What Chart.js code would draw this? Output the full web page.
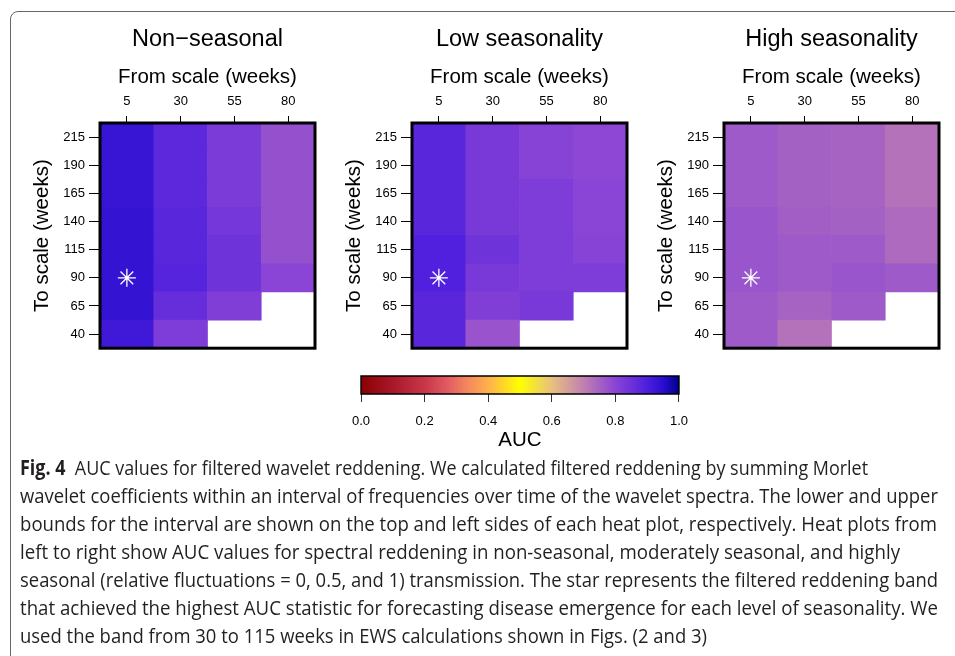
<!DOCTYPE html>
<html>
<head>
<meta charset="utf-8">
<script src="https://cdn.jsdelivr.net/npm/chart.js@4.4.1/dist/chart.umd.min.js"></script>
<style>
  html, body { margin: 0; padding: 0; background: #fff; width: 955px; height: 656px; overflow: hidden; }
  .frame { position: absolute; left: 10px; top: 11px; width: 1000px; height: 700px;
           border: 1.5px solid #666; border-radius: 8px; box-sizing: border-box; }
  canvas { position: absolute; }
  .cap { position: absolute; left: 20px; white-space: nowrap; font-family: 'Open Sans', sans-serif;
         font-size: 20.5px; line-height: 28px; color: #231f20; transform-origin: 0 50%; }
  .cap b { font-weight: 700; }
</style>
</head>
<body>
<div class="frame"></div>
<canvas id="heat1" width="310" height="360" style="left:20px;top:0px"></canvas>
<canvas id="heat2" width="310" height="360" style="left:332px;top:0px"></canvas>
<canvas id="heat3" width="310" height="360" style="left:644px;top:0px"></canvas>
<canvas id="colorbar" width="360" height="100" style="left:340px;top:362px"></canvas>
<div id="caption"></div>
<script>
// data
const fromScale = [5, 30, 55, 80];
const toScale = [40, 65, 90, 115, 140, 165, 190, 215];
// AUC, one array per "from" column, values listed for toScale 40 -> 215 (null = no band)
const aucNonSeasonal = [
    [0.92, 0.935, 0.935, 0.935, 0.935, 0.93, 0.93, 0.93],
    [0.82, 0.86, 0.885, 0.88, 0.88, 0.875, 0.875, 0.875],
    [null, 0.815, 0.845, 0.845, 0.835, 0.825, 0.825, 0.825],
    [null, null, 0.80, 0.78, 0.78, 0.78, 0.78, 0.78]
];
const aucLow = [
    [0.88, 0.88, 0.895, 0.895, 0.88, 0.88, 0.88, 0.88],
    [0.775, 0.815, 0.83, 0.845, 0.83, 0.83, 0.83, 0.83],
    [null, 0.83, 0.82, 0.82, 0.82, 0.82, 0.805, 0.805],
    [null, null, 0.82, 0.805, 0.80, 0.80, 0.795, 0.795]
];
const aucHigh = [
    [0.764, 0.764, 0.772, 0.772, 0.772, 0.764, 0.764, 0.764],
    [0.724, 0.748, 0.764, 0.764, 0.756, 0.752, 0.752, 0.752],
    [null, 0.764, 0.772, 0.764, 0.752, 0.748, 0.748, 0.748],
    [null, null, 0.764, 0.736, 0.736, 0.724, 0.724, 0.724]
];
const panelTitles = ['Non\u2212seasonal', 'Low seasonality', 'High seasonality'];
const bestFrom = [5, 5, 5];
const bestTo = [90, 90, 90];
const colorbarRange = [0, 1];
const colorbarTicks = [0, 0.2, 0.4, 0.6, 0.8, 1.0];
const captionLines = [
    'AUC values for filtered wavelet reddening. We calculated filtered reddening by summing Morlet',
    'wavelet coefficients within an interval of frequencies over time of the wavelet spectra. The lower and upper',
    'bounds for the interval are shown on the top and left sides of each heat plot, respectively. Heat plots from',
    'left to right show AUC values for spectral reddening in non-seasonal, moderately seasonal, and highly',
    'seasonal (relative fluctuations = 0, 0.5, and 1) transmission. The star represents the filtered reddening band',
    'that achieved the highest AUC statistic for forecasting disease emergence for each level of seasonality. We',
    'used the band from 30 to 115 weeks in EWS calculations shown in Figs. (2 and 3)'
];

// colour ramp of the AUC legend
const rampStops = [
    [0.0, '#8b0000'], [0.1, '#a8182a'], [0.2, '#c8364a'], [0.27, '#e05a62'],
    [0.33, '#f4845e'], [0.4, '#ffb04e'], [0.5, '#ffff00'], [0.6, '#e8c080'],
    [0.7, '#c080b0'], [0.8, '#8a44d6'], [0.9, '#4e1ede'], [0.95, '#2a0ece'], [1.0, '#00008b']
];
// caption line lengths in the printed figure (px)
const captionWidths = [848, 918, 917, 880, 918, 918, 687];

function hexRgb(h) {
    return [parseInt(h.slice(1, 3), 16), parseInt(h.slice(3, 5), 16), parseInt(h.slice(5, 7), 16)];
}
function aucColor(v) {
    for (let i = 1; i < rampStops.length; i++) {
        if (v <= rampStops[i][0]) {
            const a = rampStops[i - 1], b = rampStops[i];
            const t = (v - a[0]) / (b[0] - a[0]);
            const ca = hexRgb(a[1]), cb = hexRgb(b[1]);
            const c = ca.map((x, k) => Math.round(x + (cb[k] - x) * t));
            return 'rgb(' + c.join(',') + ')';
        }
    }
    return rampStops[rampStops.length - 1][1];
}

Chart.defaults.font.family = "'Liberation Sans', Arial, sans-serif";
Chart.defaults.color = '#000';

// black frame round the plot area
const boxPlugin = {
    id: 'box',
    afterDatasetsDraw(chart, args, opts) {
        const ca = chart.chartArea;
        const ctx = chart.ctx;
        ctx.save();
        ctx.strokeStyle = '#000';
        ctx.lineWidth = opts.width || 1;
        ctx.strokeRect(ca.left, ca.top, ca.right - ca.left, ca.bottom - ca.top);
        ctx.restore();
    }
};

function heatChart(id, title, auc, bFrom, bTo) {
    const datasets = toScale.map((t, r) => ({
        type: 'bar',
        data: fromScale.map((f, c) => auc[c][r] == null ? null : [t - 12.5, t + 12.5]),
        backgroundColor: fromScale.map((f, c) => auc[c][r] == null ? 'rgba(0,0,0,0)' : aucColor(auc[c][r])),
        borderWidth: 0,
        barPercentage: 1,
        categoryPercentage: 1,
        grouped: false,
        order: 2
    }));
    datasets.push({
        type: 'line',
        data: fromScale.map(f => f === bFrom ? bTo : null),
        showLine: false,
        pointStyle: 'star',
        pointRadius: 9,
        pointBorderColor: '#fff',
        pointBorderWidth: 1.3,
        order: 0
    });
    return new Chart(document.getElementById(id), {
        type: 'bar',
        data: { labels: fromScale.map(String), datasets: datasets },
        options: {
            responsive: false,
            animation: false,
            layout: { padding: { left: 0, right: 15, top: 0, bottom: 11 } },
            plugins: {
                legend: { display: false },
                tooltip: { enabled: false },
                title: {
                    display: true, text: title, fullSize: false,
                    font: { size: 23.5, weight: 'normal' }, padding: { top: 25, bottom: 0 }, color: '#000'
                },
                box: { width: 3 }
            },
            scales: {
                x: {
                    position: 'top',
                    offset: true,
                    grid: { offset: false, drawOnChartArea: false, drawTicks: true, tickLength: 7, color: '#000' },
                    border: { display: false },
                    ticks: { font: { size: 13 }, padding: 7, color: '#000', maxRotation: 0 },
                    title: { display: true, text: 'From scale (weeks)', font: { size: 20.5 }, padding: { top: 12 }, color: '#000' },
                    afterFit: s => { s.height = 69.8; }
                },
                y: {
                    type: 'linear',
                    min: 27.5,
                    max: 227.5,
                    afterBuildTicks: s => { s.ticks = toScale.map(v => ({ value: v })); },
                    grid: { drawOnChartArea: false, drawTicks: true, tickLength: 11, color: '#000' },
                    border: { display: false },
                    ticks: { font: { size: 13 }, padding: 4, color: '#000' },
                    title: { display: true, text: 'To scale (weeks)', font: { size: 20.5 }, padding: { top: 10 }, color: '#000' },
                    afterFit: s => { s.width = 80; }
                }
            }
        },
        plugins: [boxPlugin]
    });
}

heatChart('heat1', panelTitles[0], aucNonSeasonal, bestFrom[0], bestTo[0]);
heatChart('heat2', panelTitles[1], aucLow, bestFrom[1], bestTo[1]);
heatChart('heat3', panelTitles[2], aucHigh, bestFrom[2], bestTo[2]);

// AUC colour bar
new Chart(document.getElementById('colorbar'), {
    type: 'bar',
    data: {
        labels: ['AUC'],
        datasets: [{
            data: [colorbarRange],
            barPercentage: 1,
            categoryPercentage: 1,
            borderWidth: 0,
            backgroundColor: c => {
                const ca = c.chart.chartArea;
                if (!ca) return '#888';
                const g = c.chart.ctx.createLinearGradient(ca.left, 0, ca.right, 0);
                rampStops.forEach(s => g.addColorStop(s[0], s[1]));
                return g;
            }
        }]
    },
    options: {
        indexAxis: 'y',
        responsive: false,
        animation: false,
        layout: { padding: { left: 21, right: 21, top: 14, bottom: 0 } },
        plugins: { legend: { display: false }, tooltip: { enabled: false }, box: { width: 1.5 } },
        scales: {
            x: {
                type: 'linear',
                min: colorbarRange[0],
                max: colorbarRange[1],
                afterBuildTicks: s => { s.ticks = colorbarTicks.map(v => ({ value: v })); },
                grid: { drawOnChartArea: false, drawTicks: true, tickLength: 8, color: '#333' },
                border: { display: false },
                ticks: { font: { size: 13 }, padding: 12, color: '#000', callback: v => Number(v).toFixed(1) },
                title: { display: true, text: 'AUC', font: { size: 20.5 }, padding: { bottom: 9 }, color: '#000' },
                afterFit: s => { s.height = 68; }
            },
            y: { display: false }
        }
    },
    plugins: [boxPlugin]
});

// caption
const cap = document.getElementById('caption');
captionLines.forEach((line, i) => {
    const d = document.createElement('div');
    d.className = 'cap';
    d.style.top = (453 + i * 28) + 'px';
    if (i === 0) {
        d.innerHTML = '<b>Fig. 4</b>&nbsp; ';
        d.appendChild(document.createTextNode(line));
    } else {
        d.textContent = line;
    }
    cap.appendChild(d);
    const k = captionWidths[i] / d.getBoundingClientRect().width;
    d.style.transform = 'scaleX(' + k.toFixed(4) + ')';
});
</script>
</body>
</html>
